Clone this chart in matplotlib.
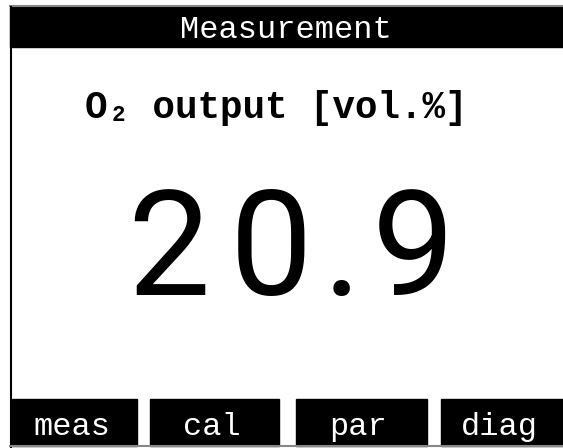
import matplotlib.pyplot as plt
from matplotlib.patches import Rectangle

title = "Measurement"
quantity = "O₂ output [vol.%]"
value = 20.9
buttons = ["meas", "cal", "par", "diag"]

W, H = 563, 448
mono = ["Liberation Mono", "DejaVu Sans Mono"]

fig = plt.figure(figsize=(W / 100, H / 100), dpi=100)
ax = fig.add_axes([0, 0, 1, 1])
ax.set_xlim(0, W)
ax.set_ylim(H, 0)
ax.axis("off")

# header bar
ax.plot([10, W], [6.5, 6.5], color="#888888", lw=1.5)
ax.add_patch(Rectangle((10, 7), W - 10, 40, color="black"))
ax.text(286, 38, title, color="white", ha="center", va="baseline",
        family=mono, fontsize=23)

# left frame line
ax.plot([10.5, 10.5], [7, H], color="black", lw=1.5)

ax.text(276, 118, quantity, ha="center", va="baseline",
        family=mono, weight="bold", fontsize=27)

# big reading, spaced out like the display font
reading = f"{value:.1f}"
cell = {".": 40}
x = 118
for ch in reading:
    w = cell.get(ch, 102)
    ax.text(x + w / 2, 295, ch, ha="center", va="baseline",
            family="Roboto", weight="normal", fontsize=106, color="black")
    x += w

# soft keys
starts = [12, 150, 296, 441]
ends = [137, 279, 427, 563]
for lab, x0, x1 in zip(buttons, starts, ends):
    ax.add_patch(Rectangle((x0, 399), x1 - x0, 47, color="black"))
    ax.text((x0 + x1) / 2 - 3, 435, lab, color="white", ha="center",
            va="baseline", family=mono, fontsize=23)
ax.plot([10, W], [446.5, 446.5], color="#888888", lw=1.5)

fig.savefig("out.png", dpi=100)
